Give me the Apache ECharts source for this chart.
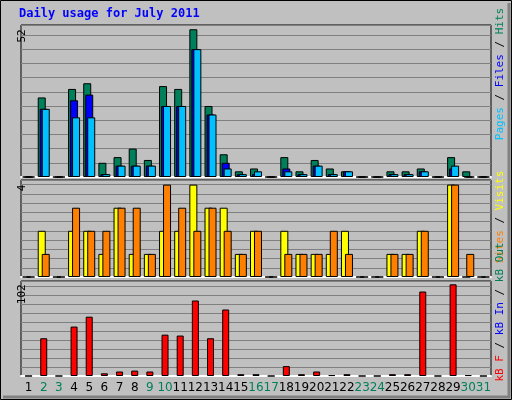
<!DOCTYPE html>
<html><head><meta charset="utf-8">
<script src="https://cdn.jsdelivr.net/npm/echarts@6/dist/echarts.min.js"></script>
<style>html,body{margin:0;padding:0;background:#c0c0c0}#c{width:512px;height:400px}</style>
</head><body><div id="c"></div>
<script>
const days = Array.from({length:31},(_, i)=>String(i+1));
const weekend = [2,3,9,10,16,17,23,24,30,31];
const hits  = [0,28,0,31,33,5,7,10,6,32,31,52,25,8,2,3,0,7,2,6,3,2,0,0,2,2,3,0,7,2,0];
const files = [0,24,0,27,29,1,4,4,4,25,25,45,22,5,1,1,0,3,1,4,1,2,0,0,1,1,2,0,3,0,0];
const pages = [0,24,0,21,21,1,4,4,4,25,25,45,22,3,1,2,0,2,1,4,1,2,0,0,1,1,2,0,4,0,0];
const visits= [0,2,0,2,2,1,3,1,1,2,2,4,3,3,1,2,0,2,1,1,1,2,0,0,1,1,2,0,4,0,0];
const sites = [0,1,0,3,2,2,3,3,1,4,3,2,3,2,1,2,0,1,1,1,2,1,0,0,1,1,2,0,4,1,0];
const kbF   = [0,42,0,55,66,3,5,6,5,46,45,84,42,74,2,2,0,11,2,5,1,2,0,0,2,2,94,0,102,1,0];
const tickTop=[52], tickMid=[4], tickBot=[102];

const grids=[{left:21,right:21,top:25,height:152},{left:21,right:21,top:180,height:97},{left:21,right:21,top:281,height:95}];
const ch=echarts.init(document.getElementById('c'));
function xa(i,show){return {type:'category',gridIndex:i,data:days,
  axisLine:{show:true,lineStyle:{color:'#fff',width:2}},axisTick:{show:false},
  axisLabel:{show:show,margin:6,fontFamily:'DejaVu Sans',fontSize:12,interval:0,
    color:(v)=>weekend.includes(+v)?'#00805a':'#000'}};}
function ya(i,max,intv,ticks){return {type:'value',gridIndex:i,min:0,max:max,interval:intv,
  axisLine:{show:false},axisTick:{show:false},
  splitLine:{show:true,lineStyle:{color:'#808080',width:1}},
  axisLabel:{show:true,customValues:ticks,rotate:90,margin:4,fontFamily:'DejaVu Sans Mono',fontSize:11,color:'#000',verticalAlign:'top',align:'right'}};}
const bs={borderColor:'#000',borderWidth:1};
ch.setOption({
  animation:false,backgroundColor:'#c0c0c0',
  grid:grids.map(g=>Object.assign({show:true,backgroundColor:'#c0c0c0',borderColor:'#000',borderWidth:1},g)),
  xAxis:[xa(0,false),xa(1,false),xa(2,true)],
  yAxis:[ya(0,53.5,5,tickTop),ya(1,4.2,0.4,tickMid),ya(2,105.7,10,tickBot)],
  series:[
    {type:'bar',xAxisIndex:0,yAxisIndex:0,data:hits,barWidth:8,barGap:'-75%',itemStyle:Object.assign({color:'#00805a'},bs)},
    {type:'bar',xAxisIndex:0,yAxisIndex:0,data:files,barWidth:8,barGap:'-75%',itemStyle:Object.assign({color:'#0000ff'},bs)},
    {type:'bar',xAxisIndex:0,yAxisIndex:0,data:pages,barWidth:8,barGap:'-75%',itemStyle:Object.assign({color:'#00c0ff'},bs)},
    {type:'bar',xAxisIndex:1,yAxisIndex:1,data:visits,barWidth:8,barGap:'-50%',itemStyle:Object.assign({color:'#ffff00'},bs)},
    {type:'bar',xAxisIndex:1,yAxisIndex:1,data:sites,barWidth:8,barGap:'-50%',itemStyle:Object.assign({color:'#ff8000'},bs)},
    {type:'bar',xAxisIndex:2,yAxisIndex:2,data:kbF,barWidth:7,itemStyle:Object.assign({color:'#ff0000'},bs)}
  ],
  graphic:[
    {type:'rect',shape:{x:0.5,y:0.5,width:511,height:399},style:{fill:'none',stroke:'#000',lineWidth:1}},
    {type:'polyline',shape:{points:[[3,397],[509,397],[509,3]]},style:{fill:'none',stroke:'#808080',lineWidth:3}},
    {type:'text',left:19,top:8,style:{text:'Daily usage for July 2011',fill:'#0000ff',font:'bold 12px "DejaVu Sans Mono"'}},
    {type:'text',x:500,y:74,rotation:Math.PI/2,style:{text:'{c|Pages}{k| / }{b|Files}{k| / }{g|Hits}',align:'center',verticalAlign:'middle',font:'11px "DejaVu Sans Mono"',
      rich:{c:{fill:'#00c0ff'},b:{fill:'#0000ff'},g:{fill:'#00805a'},k:{fill:'#000'}}}},
    {type:'text',x:500,y:217,rotation:Math.PI/2,style:{text:'{o|Sites}{k| / }{y|Visits}',align:'center',verticalAlign:'middle',font:'11px "DejaVu Sans Mono"',
      rich:{o:{fill:'#ff8000'},y:{fill:'#ffff00'},k:{fill:'#000'}}}},
    {type:'text',x:500,y:312,rotation:Math.PI/2,style:{text:'{r|kB F}{k| / }{b|kB In}{k| / }{g|kB Out}',align:'center',verticalAlign:'middle',font:'11px "DejaVu Sans Mono"',
      rich:{r:{fill:'#ff0000'},b:{fill:'#0000ff'},g:{fill:'#00805a'},k:{fill:'#000'}}}}
  ]
});
</script></body></html>
